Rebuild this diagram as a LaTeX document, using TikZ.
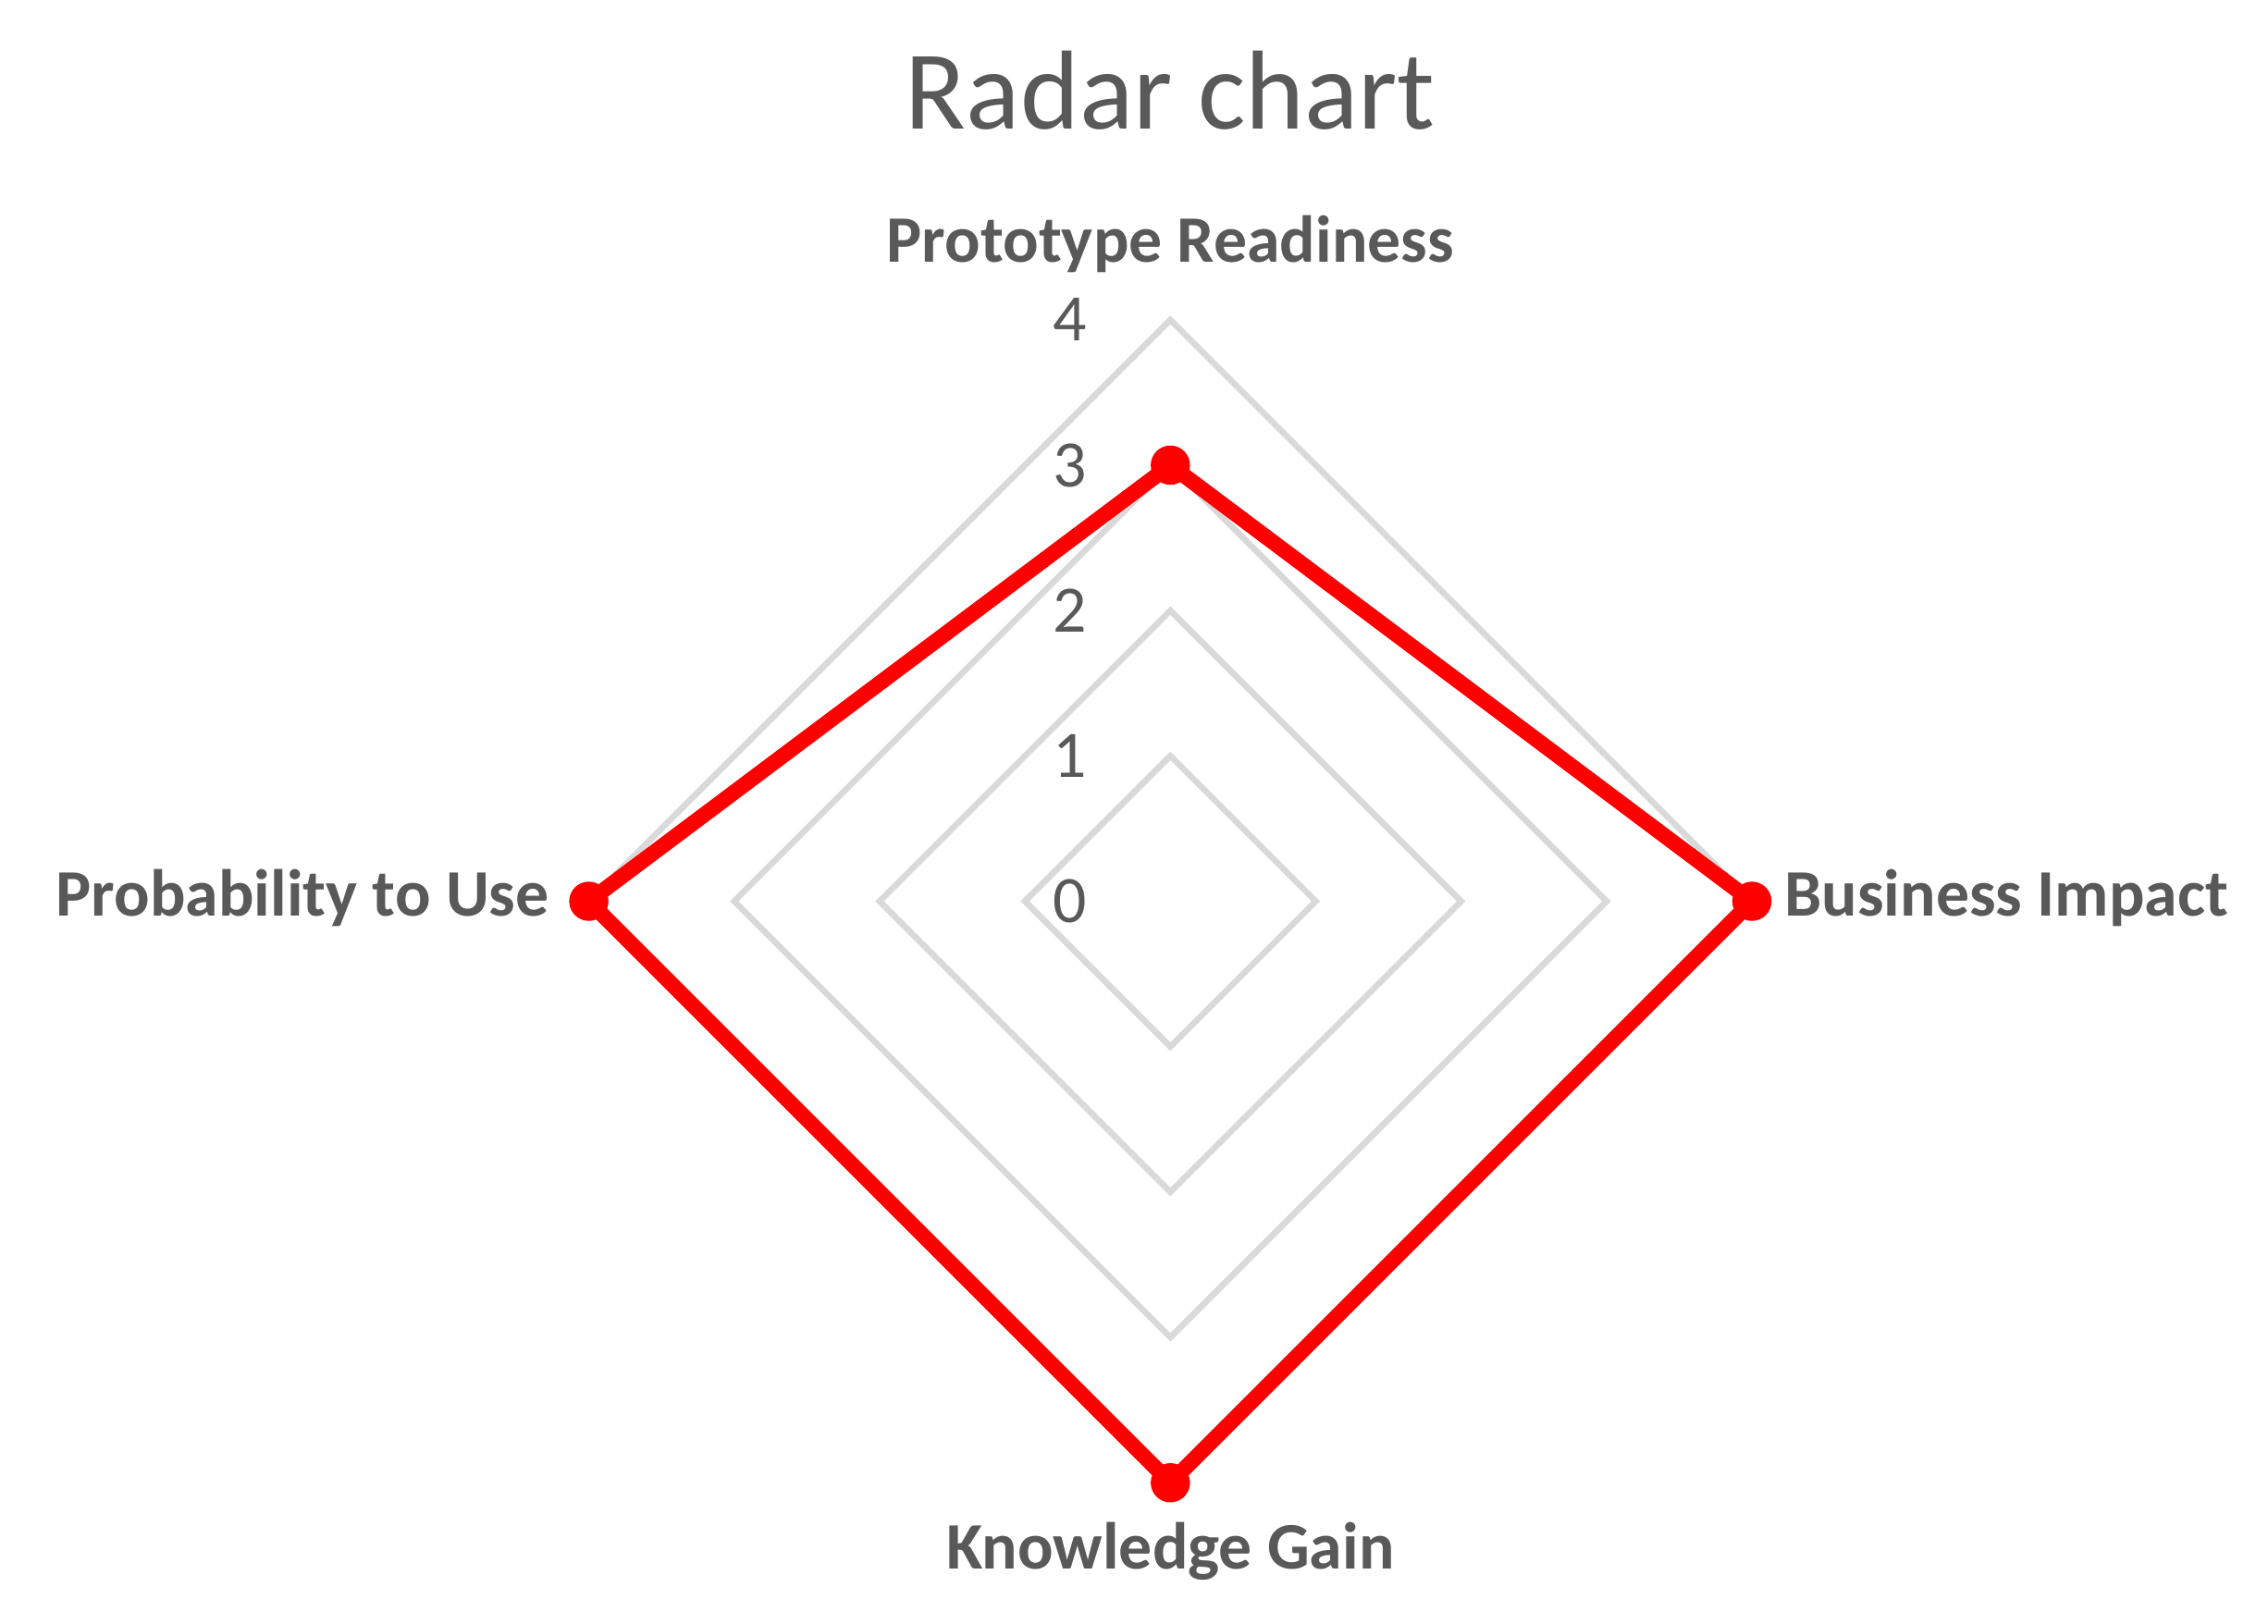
\documentclass[tikz,border=0pt]{standalone}
\usepackage{fontspec}
\setmainfont{Carlito}
\usetikzlibrary{calc}
\definecolor{txtgrey}{HTML}{595959}
\definecolor{gridgrey}{HTML}{D9D9D9}
\tikzset{
  gridline/.style={draw=gridgrey, line width=1.2pt},
  serieline/.style={draw=red, line width=3pt, line join=round},
  serimark/.style={circle, fill=red, inner sep=0pt, minimum size=0.27cm},
  axislabel/.style={font=\bfseries\fontsize{13}{15}\selectfont, text=txtgrey},
  ticklabel/.style={font=\fontsize{13}{15}\selectfont, text=txtgrey, anchor=east}
}
\begin{document}
\begin{tikzpicture}
  \useasboundingbox (0,0) rectangle (15.6,-11.17);
  \coordinate (c) at (8.05,-6.2);
  % grid
  \foreach \r in {1,2,3,4}
    \draw [gridline] ($(c)+(0,\r)$) -- ($(c)+(\r,0)$) -- ($(c)+(0,-\r)$) -- ($(c)+(-\r,0)$) -- cycle;
  \foreach \r in {0,1,2,3,4}
    \node [ticklabel] (tick\r) at ($(c)+(-0.45,\r)$) {\r};
  % series
  \coordinate (pr) at ($(c)+(0,3)$);
  \coordinate (bi) at ($(c)+(4,0)$);
  \coordinate (kg) at ($(c)+(0,-4)$);
  \coordinate (pu) at ($(c)+(-4,0)$);
  \draw [serieline] (pr) -- (bi) -- (kg) -- (pu) -- cycle;
  \foreach \p in {pr,bi,kg,pu}
    \node [serimark] (m\p) at (\p) {};
  % labels
  \node [font=\fontsize{22}{26}\selectfont, text=txtgrey] (title) at (8.05,-0.62) {Radar chart};
  \node [axislabel] (lpr) at (8.05,-1.68) {Prototype Readiness};
  \node [axislabel, anchor=west] (lbi) at (12.15,-6.18) {Business Impact};
  \node [axislabel] (lkg) at (8.05,-10.67) {Knowledge Gain};
  \node [axislabel, anchor=east] (lpu) at (3.9,-6.18) {Probability to Use};
\end{tikzpicture}
\end{document}
